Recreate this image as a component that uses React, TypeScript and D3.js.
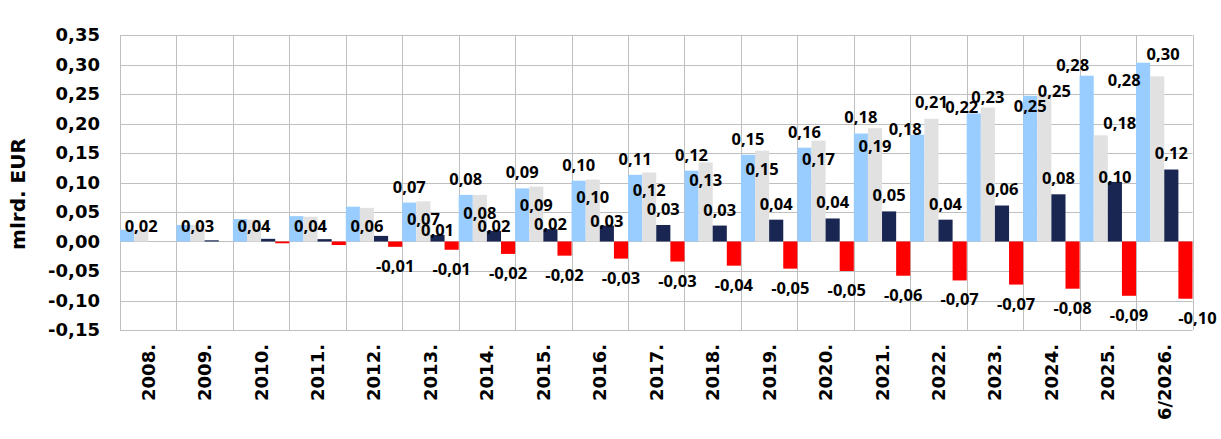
import React, { useEffect } from 'react';
import * as d3 from 'd3';

const categories = [
  '2008.', '2009.', '2010.', '2011.', '2012.', '2013.', '2014.', '2015.', '2016.', '2017.',
  '2018.', '2019.', '2020.', '2021.', '2022.', '2023.', '2024.', '2025.', '6/2026.',
];

const blueValues = [
  0.02, 0.028, 0.038, 0.043, 0.059, 0.066, 0.079, 0.09, 0.103, 0.113,
  0.12, 0.147, 0.159, 0.183, 0.181, 0.217, 0.247, 0.281, 0.303,
];
const grayValues = [
  0.019, 0.028, 0.037, 0.042, 0.057, 0.068, 0.079, 0.093, 0.105, 0.117,
  0.134, 0.154, 0.171, 0.192, 0.208, 0.227, 0.25, 0.18, 0.28,
];
const navyValues = [
  0, 0.002, 0.0045, 0.004, 0.0095, 0.011, 0.018, 0.021, 0.027, 0.028,
  0.027, 0.037, 0.039, 0.051, 0.037, 0.061, 0.08, 0.101, 0.122,
];
const redValues = [
  0, 0, -0.003, -0.006, -0.009, -0.014, -0.021, -0.024, -0.029, -0.034,
  -0.041, -0.046, -0.05, -0.058, -0.066, -0.073, -0.08, -0.092, -0.097,
];

const yTicks = [-0.15, -0.1, -0.05, 0, 0.05, 0.1, 0.15, 0.2, 0.25, 0.3, 0.35];

// first category that carries a data label, per series
const labelFrom = { blue: 5, gray: 0, navy: 5, red: 4 };

// hand-moved labels in the original: [series, category index, dx, dy]
const labelNudges: [string, number, number, number][] = [
  ['blue', 14, -12, 10],
  ['gray', 14, 0, -35],
  ['blue', 15, -12, 10],
  ['gray', 15, 0, -29],
  ['blue', 16, 0, 26],
  ['gray', 16, 10, -21],
  ['blue', 17, -14, 5],
  ['gray', 17, 19, -30],
  ['blue', 18, 20, 7],
  ['gray', 18, -33, -14],
  ['red', 18, 12, 0],
];

const W = 1221;
const H = 439;
const margin = { left: 120, right: 28.5, top: 35, bottom: 109 };

const seriesKeys = ['blue', 'gray', 'navy', 'red'];
const colors: Record<string, string> = {
  blue: '#99CCFF',
  gray: '#E1E1E1',
  navy: '#1A2652',
  red: '#FF0000',
};
const seriesData: Record<string, number[]> = {
  blue: blueValues,
  gray: grayValues,
  navy: navyValues,
  red: redValues,
};

const fmt = (v: number) => v.toFixed(2).replace('.', ',');
const crisp = (v: number) => Math.round(v) + 0.5;

export default function App() {
  useEffect(() => {
    document.body.style.margin = '0';
  }, []);

  const x = d3
    .scaleBand<string>()
    .domain(categories)
    .range([margin.left, W - margin.right])
    .padding(0);
  const xs = d3.scaleBand<string>().domain(seriesKeys).range([0, x.bandwidth()]).padding(0);
  const y = d3
    .scaleLinear()
    .domain([-0.15, 0.35])
    .range([H - margin.bottom, margin.top]);

  const zero = y(0);
  const nudge = (s: string, i: number) => {
    const n = labelNudges.find((d) => d[0] === s && d[1] === i);
    return n ? [n[2], n[3]] : [0, 0];
  };

  // label positions per series
  const labels: { key: string; x: number; y: number; text: string }[] = [];
  categories.forEach((c, i) => {
    const cx = (s: string) => (x(c) as number) + (xs(s) as number) + xs.bandwidth() / 2;
    const grayTop = y(grayValues[i]);
    const grayY = Math.min(grayTop + 18, zero - 15);
    const pos: Record<string, [number, number]> = {
      blue: [cx('blue'), y(blueValues[i]) - 16],
      gray: [cx('gray'), grayY],
      navy: [cx('navy'), y(navyValues[i]) - 16],
      red: [cx('red'), y(redValues[i]) + 19],
    };
    if (Math.abs(pos.navy[1] - grayY) < 16) pos.navy[1] = y(navyValues[i]) - 5;
    seriesKeys.forEach((s) => {
      if (i < (labelFrom as any)[s]) return;
      const [dx, dy] = nudge(s, i);
      labels.push({
        key: `${s}-${i}`,
        x: pos[s][0] + dx,
        y: pos[s][1] + dy,
        text: fmt(seriesData[s][i]),
      });
    });
  });

  const plotBottom = H - margin.bottom;
  const plotRight = W - margin.right;

  return (
    <svg width={W} height={H} style={{ display: 'block', background: '#fff' }}>
      {/* grid */}
      <g stroke="#BFBFBF" strokeWidth={1}>
        {yTicks.map((t) => (
          <line key={t} x1={margin.left} x2={plotRight} y1={crisp(y(t))} y2={crisp(y(t))} />
        ))}
        {categories.map((c) => (
          <line key={c} x1={crisp(x(c) as number)} x2={crisp(x(c) as number)} y1={margin.top} y2={plotBottom} />
        ))}
        <line x1={crisp(plotRight)} x2={crisp(plotRight)} y1={margin.top} y2={plotBottom} />
      </g>

      {/* bars */}
      {seriesKeys.map((s) => (
        <g key={s} fill={colors[s]}>
          {categories.map((c, i) => {
            const v = seriesData[s][i];
            return (
              <rect
                key={c}
                x={(x(c) as number) + (xs(s) as number)}
                width={xs.bandwidth()}
                y={Math.min(y(v), zero)}
                height={Math.abs(y(v) - zero)}
              />
            );
          })}
        </g>
      ))}

      {/* y axis ticks */}
      <g fontFamily="DejaVu Sans" fontWeight="bold" fontSize={18} textAnchor="end">
        {yTicks.map((t) => (
          <text key={t} x={100} y={y(t)} dy="0.36em">
            {fmt(t)}
          </text>
        ))}
      </g>
      <text
        transform={`translate(17.5, 194) rotate(-90)`}
        textAnchor="middle"
        dy="0.36em"
        fontFamily="DejaVu Sans"
        fontWeight="bold"
        fontSize={20}
      >
        mlrd. EUR
      </text>

      {/* category labels */}
      <g fontFamily="DejaVu Sans" fontWeight="bold" fontSize={18} textAnchor="end">
        {categories.map((c) => (
          <text
            key={c}
            transform={`translate(${(x(c) as number) + x.bandwidth() / 2}, ${plotBottom + 14}) rotate(-90)`}
            dy="0.36em"
          >
            {c}
          </text>
        ))}
      </g>

      {/* data labels */}
      <g fontFamily="Open Sans" fontWeight="bold" fontSize={16.5} textAnchor="middle" fill="#000">
        {labels.map((l) => (
          <text key={l.key} x={l.x} y={l.y} dy="0.36em">
            {l.text}
          </text>
        ))}
      </g>
    </svg>
  );
}
